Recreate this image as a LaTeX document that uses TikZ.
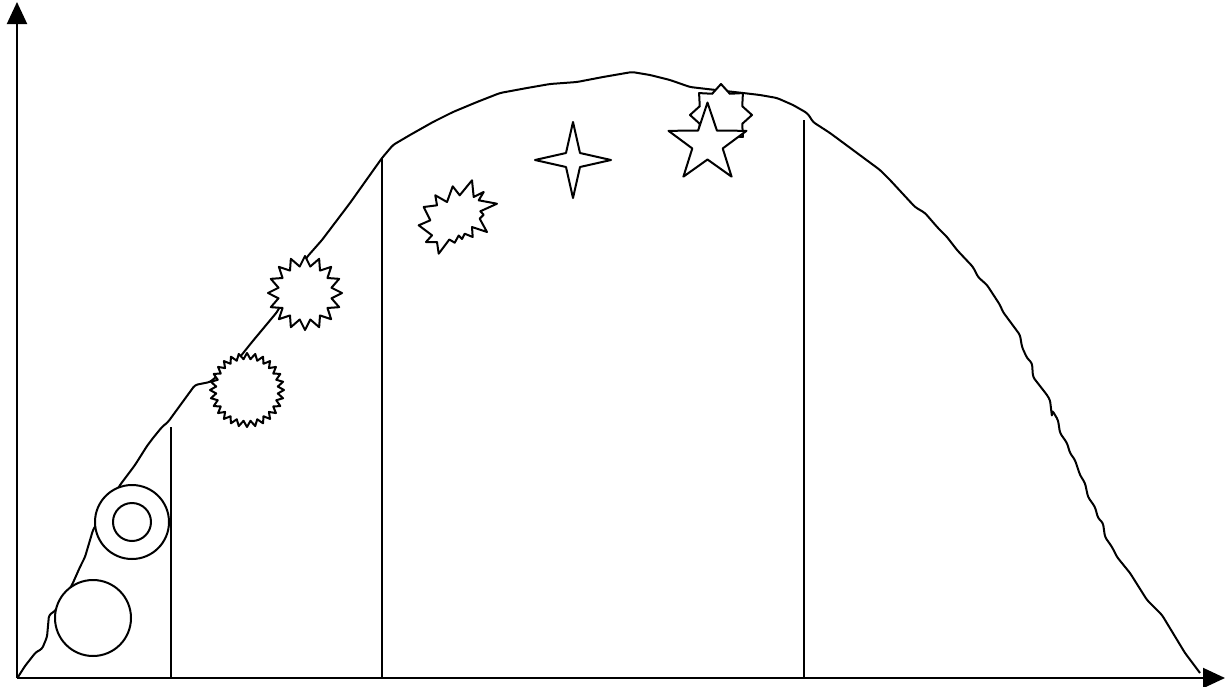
\documentclass[tikz,border=0pt]{standalone}
\usetikzlibrary{arrows.meta}
\begin{document}
\begin{tikzpicture}[x=0.75pt,y=-0.75pt,line width=1.5pt,line join=round,
  axis/.style={-{Triangle[length=16.5pt,width=15pt]}},
  shapeline/.style={draw=black,fill=white}]
\useasboundingbox (0,0) rectangle (1225,686);
% axes
\coordinate (O) at (17,678);
\coordinate (ytip) at (17,2);
\coordinate (xtip) at (1225,678);
\draw[axis] (O) -- (ytip);
\draw[axis] (O) -- (xtip);
% curve
\draw[rounded corners=2pt] (18,677) -- (25,666) -- (36,652) -- (42,649) -- (47,637) -- (49,615) -- (55,611)
  -- (72,585) -- (80,567) -- (85,557) -- (93,530) -- (120,485) -- (135,465) -- (147,446)
  -- (153,438) -- (162,427) -- (168,422) -- (195,385) -- (210,382) -- (240,357) -- (252,342)
  -- (262,330) -- (277,312) -- (307,257) -- (322,240) -- (350,203) -- (382,158) -- (393,145)
  -- (410,135) -- (433,122) -- (453,112) -- (477,102) -- (500,93) -- (527,88) -- (550,84)
  -- (577,82) -- (603,77) -- (632,72) -- (650,75) -- (670,80) -- (690,87) -- (707,89)
  -- (743,93) -- (760,95) -- (777,98) -- (793,105) -- (807,113) -- (810,117) -- (813,122)
  -- (830,133) -- (880,170) -- (890,180) -- (915,207) -- (925,213) -- (938,228) -- (947,237)
  -- (957,250) -- (973,267) -- (978,277) -- (987,285) -- (1000,305) -- (1003,312) -- (1020,335)
  -- (1022,347) -- (1027,358) -- (1032,363) -- (1033,377) -- (1047,395) -- (1050,400)
  -- (1052,417) -- (1052,410) -- (1058,420) -- (1060,433) -- (1067,443) -- (1070,453)
  -- (1075,460) -- (1080,475) -- (1085,483) -- (1088,497) -- (1095,507) -- (1098,518)
  -- (1103,523) -- (1105,537) -- (1112,547) -- (1117,557) -- (1130,573) -- (1147,600)
  -- (1162,615) -- (1185,653) -- (1200,673);
% vertical lines
\coordinate (v1t) at (171,427); \coordinate (v1b) at (171,678);
\coordinate (v2t) at (382,158); \coordinate (v2b) at (382,678);
\coordinate (v3t) at (804,120); \coordinate (v3b) at (804,678);
\draw (v1t) -- (v1b);
\draw (v2t) -- (v2b);
\draw (v3t) -- (v3b);
% circles
\draw[shapeline] (93,618) circle[radius=38];
\draw[shapeline] (132,522) circle[radius=37];
\draw[shapeline] (132,522) circle[radius=19];
% zigzag burst
\draw[shapeline] plot[variable=\k,samples at={0,...,55}]
  ({247+(37-6*mod(\k,2))*sin(\k*(360/56))},{390-(37-6*mod(\k,2))*cos(\k*(360/56))}) -- cycle;
% 16-point burst
\draw[shapeline] plot[variable=\k,samples at={0,...,31}]
  ({305+(37-10*mod(\k,2))*sin(\k*11.25)},{293-(37-10*mod(\k,2))*cos(\k*11.25)}) -- cycle;
% explosion
\draw[shapeline] (435.3,195.3) -- (447,202) -- (452.7,186.3) -- (459.7,195.3) -- (472,180.3)
  -- (473.7,197) -- (483.7,192) -- (478.7,200.3) -- (497,203.7) -- (480.3,211.3)
  -- (483.7,214.7) -- (479.7,218.7) -- (487,232) -- (472,227) -- (472.7,237)
  -- (464.7,233.7) -- (462,239) -- (458.7,235.5) -- (454.7,242.7) -- (449.3,239.5)
  -- (438.7,253.7) -- (437,242) -- (426,242) -- (432,235.3) -- (418.7,225.3)
  -- (430.3,220.3) -- (423.7,207) -- (437,205.3) -- cycle;
% four-point star
\draw[shapeline] (573,122) -- (580,153) -- (611,160) -- (580,167) -- (573,198)
  -- (566,167) -- (535,160) -- (566,153) -- cycle;
% eight-point star
\draw[shapeline] plot[variable=\k,samples at={0,...,15}]
  ({721+(31-8*mod(\k,2))*sin(\k*22.5)},{115-(31-8*mod(\k,2))*cos(\k*22.5)}) -- cycle;
% five-point star
\draw[shapeline] plot[variable=\k,samples at={0,...,9}]
  ({707.5+(41-25*mod(\k,2))*sin(\k*36)},{143.5-(41-25*mod(\k,2))*cos(\k*36)}) -- cycle;
\end{tikzpicture}
\end{document}
